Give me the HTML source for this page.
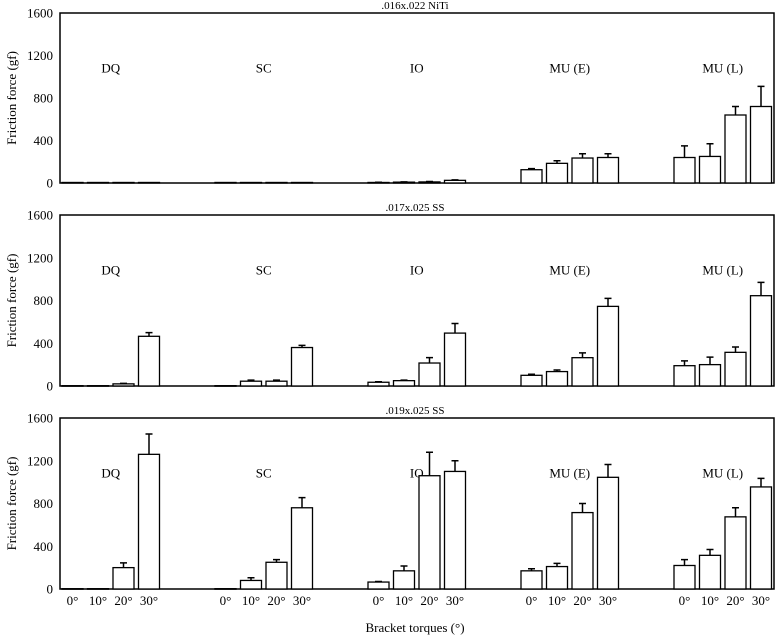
<!DOCTYPE html>
<html><head><meta charset="utf-8"><style>
html,body{margin:0;padding:0;background:#fff;}
svg text{font-family:"Liberation Serif",serif;fill:#000;}
</style></head><body>
<svg id="chart" width="775" height="636" viewBox="0 0 775 636" xmlns="http://www.w3.org/2000/svg"></svg>
<script>
const groups = ["DQ","SC","IO","MU (E)","MU (L)"];
const torques = ["0°","10°","20°","30°"];
const panelTitles = [".016x.022 NiTi", ".017x.025 SS", ".019x.025 SS"];
const yTicks = [0,400,800,1200,1600];
const valuesNiTi = [[5,5,5,5],[5,5,5,5],[5,8,10,25],[125,185,235,240],[240,250,640,720]];
const errorsNiTi = [[0,0,0,0],[0,0,0,0],[2,3,4,5],[10,25,40,35],[110,120,80,190]];
const values017 = [[3,3,20,465],[3,45,45,360],[35,50,215,495],[100,135,265,745],[190,200,315,845]];
const errors017 = [[0,0,5,35],[0,10,10,20],[5,5,50,90],[10,15,45,75],[45,70,50,125]];
const values019 = [[3,3,200,1260],[3,80,250,760],[65,170,1060,1100],[170,210,715,1045],[220,315,675,955]];
const errors019 = [[0,0,45,190],[0,25,25,95],[5,45,220,100],[20,30,85,120],[55,55,85,80]];

const svg = document.getElementById('chart');
const NS = "http://www.w3.org/2000/svg";
function mk(tag, attrs, parent){const e=document.createElementNS(NS,tag);for(const k in attrs)e.setAttribute(k,attrs[k]);(parent||svg).appendChild(e);return e;}
const panels=[{top:13,bottom:183,v:valuesNiTi,e:errorsNiTi},{top:215,bottom:386,v:values017,e:errors017},{top:418,bottom:589,v:values019,e:errors019}];
const xL=60,xR=774,g0=62,gPitch=153,bPitch=25.5,bW=21,yMax=1600;
function xBar(g,t){return g0+g*gPitch+t*bPitch;}
panels.forEach((p,pi)=>{
  const y=v=>p.bottom-(v/yMax)*(p.bottom-p.top);
  const g=mk('g',{});
  
  
  const fr=mk('rect',{x:xL,y:p.top,width:xR-xL,height:p.bottom-p.top,fill:'none',stroke:'#000','stroke-width':1.5},g);
  
  
  const tt=mk('text',{x:415,y:p.top-4,'text-anchor':'middle','font-size':11},g);
  tt.textContent=panelTitles[pi];
  
  
  yTicks.forEach(t=>{
    const l=mk('text',{x:53,y:y(t)+4.5,'text-anchor':'end','font-size':13},g);
    l.textContent=t;
    
    
  });
  const yt=mk('text',{x:0,y:0,'text-anchor':'middle','font-size':13,transform:`translate(16,${(p.top+p.bottom)/2}) rotate(-90)`},g);
  yt.textContent='Friction force (gf)';
  
  
  groups.forEach((gn,gi)=>{
    const cx=xBar(gi,0)+1.5*bPitch+bW/2;
    const gl=mk('text',{x:cx,y:y(1080)+4,'text-anchor':'middle','font-size':13},g);
    gl.textContent=gn;
    
    
    torques.forEach((tn,ti)=>{
      const v=p.v[gi][ti],er=p.e[gi][ti],x=xBar(gi,ti);
      const r=mk('rect',{x:x,y:y(v),width:bW,height:Math.max(p.bottom-y(v),0.5),fill:'#fff',stroke:'#000','stroke-width':1.3},g);
      
      
      if(er>0){
        const cxb=x+bW/2;
        const el=mk('path',{d:`M${cxb},${y(v)}V${y(v+er)}M${cxb-3.5},${y(v+er)}H${cxb+3.5}`,stroke:'#000','stroke-width':1.5,fill:'none'},g);
        
        
      }
      if(pi===2){
        const xl=mk('text',{x:x+bW/2,y:605,'text-anchor':'middle','font-size':13},g);
        xl.textContent=tn;
        
        
      }
    });
  });
});
const xt=mk('text',{x:415,y:632,'text-anchor':'middle','font-size':13});
xt.textContent='Bracket torques (°)';


</script>
</body></html>
